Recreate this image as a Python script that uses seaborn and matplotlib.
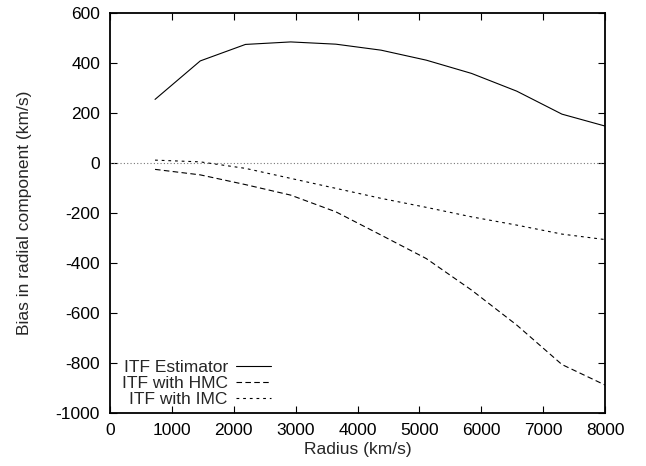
import numpy as np
import pandas as pd
import matplotlib
matplotlib.use("Agg")
import matplotlib.pyplot as plt
import seaborn as sns

radius = [730, 1460, 2190, 2920, 3650, 4380, 5110, 5840, 6570, 7300, 8030]
itf_estimator = [255, 409, 475, 485, 476, 452, 412, 359, 288, 196, 146]
itf_hmc = [-25, -47, -86, -128, -195, -288, -382, -508, -648, -806, -892]
itf_imc = [12, 5, -21, -61, -101, -141, -177, -215, -248, -284, -307]

sns.set_style("ticks")
plt.rcParams["font.family"] = ["Liberation Sans", "DejaVu Sans"]
plt.rcParams["font.size"] = 12.5
plt.rcParams["axes.unicode_minus"] = False
plt.rcParams["xtick.direction"] = "in"
plt.rcParams["ytick.direction"] = "in"
plt.rcParams["xtick.top"] = True
plt.rcParams["ytick.right"] = True

fig = plt.figure(figsize=(6.46, 4.66), dpi=100)
ax = fig.add_axes([0.170, 0.1137, 0.767, 0.858])

ax.axhline(0, color="#777777", lw=0.8, ls=(0, (1, 2)), zorder=1)

sns.lineplot(x=radius, y=itf_estimator, ax=ax, color="black", lw=0.8,
             label="ITF Estimator")
sns.lineplot(x=radius, y=itf_hmc, ax=ax, color="black", lw=0.8,
             ls=(0, (5, 3)), label="ITF with HMC")
sns.lineplot(x=radius, y=itf_imc, ax=ax, color="black", lw=0.8,
             ls=(0, (2.5, 3.5)), label="ITF with IMC")

ax.set_xlim(0, 8000)
ax.set_ylim(-1000, 600)
ax.set_xticks(np.arange(0, 8001, 1000))
ax.set_yticks(np.arange(-1000, 601, 200))
ax.tick_params(length=5, width=0.8, colors="black", labelsize=12.5, pad=7)
for s in ax.spines.values():
    s.set_linewidth(1.3)
    s.set_color("black")

ax.set_xlabel("Radius (km/s)", labelpad=3)
ax.set_ylabel("Bias in radial component (km/s)", labelpad=17)

ax.legend(loc="center right", bbox_to_anchor=(0.444, 0.178),
          bbox_transform=fig.transFigure, frameon=False,
          markerfirst=False, handlelength=2.0, handletextpad=0.5,
          labelspacing=0.05, fontsize=12.5)

fig.savefig("out.png", dpi=100)
